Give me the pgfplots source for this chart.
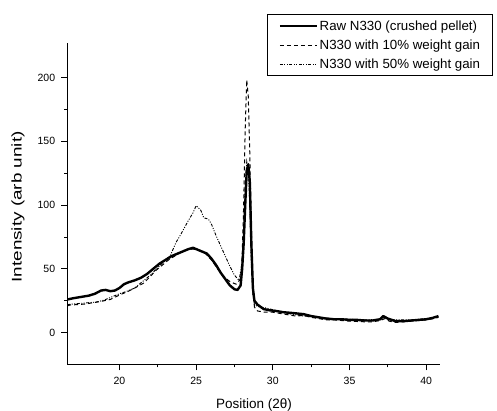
\documentclass[border=0pt]{standalone}
\usepackage{fontspec}
\setmainfont{Liberation Sans}
\usepackage{pgfplots}
\pgfplotsset{compat=1.18}
\begin{document}
\begin{tikzpicture}
\begin{axis}[
  scale only axis,
  width=372.7pt, height=321.3pt,
  xmin=16.6, xmax=40.9,
  ymin=-24.8, ymax=227,
  axis x line=bottom, axis y line=left,
  axis line style={-, line width=0.8pt},
  tick align=outside,
  major tick length=6pt, minor tick length=3pt,
  every tick/.style={black, line width=0.8pt},
  xtick={20,25,30,35,40}, ytick={0,50,100,150,200},
  minor x tick num=1, minor y tick num=1,
  /pgf/number format/assume math mode=true,
  ticklabel style={font=\fontsize{10.5}{12}\selectfont},
  xticklabel style={inner sep=0pt, anchor=north, yshift=-7pt},
  yticklabel style={inner sep=0pt, anchor=east, xshift=-6pt},
  xlabel={Position (2θ)},
  xlabel style={font=\fontsize{13.5}{15}\selectfont, at={(axis description cs:0.501,-0.136)}, anchor=base},
  ylabel={\scalebox{1.35}[1]{Intensity (arb unit)}},
  ylabel style={font=\fontsize{14}{16}\selectfont, at={(axis description cs:-0.132,0.49)}, anchor=center},
  legend style={at={(axis description cs:1.142,1.090)}, anchor=north east,
    draw=black, line width=0.6pt, fill=white,
    font=\fontsize{13.3}{15}\selectfont,
    inner xsep=11pt, inner ysep=4pt, row sep=4pt,
    nodes={inner xsep=1.5pt}},
  legend cell align=left,
  legend image code/.code={\draw[#1] (0pt,0pt) -- (37pt,0pt);},
  clip=false,
]
\coordinate (O) at (rel axis cs:0,0);
\addlegendimage{black, line width=2.4pt}
\addlegendimage{black, line width=1pt, dash pattern=on 4pt off 3pt}
\addlegendimage{black, line width=0.9pt, dash pattern=on 3pt off 1.5pt on 1pt off 1.5pt on 1pt off 1.5pt}
\legend{Raw N330 (crushed pellet), N330 with 10\% weight gain, N330 with 50\% weight gain}
% 50% weight gain (dash dot dot)
\addplot[forget plot, black, line width=0.9pt, dash pattern=on 3pt off 1.5pt on 1pt off 1.5pt on 1pt off 1.5pt] coordinates {
(16.6,22) (17.0,22.5) (17.5,23) (18.0,23.5) (18.5,24) (19.0,25.5) (19.5,28) (20.0,30.5) (20.5,32.5)
(21.0,35) (21.5,40) (22.0,45) (22.5,51) (23.0,57) (23.3,60) (23.7,71) (24.0,77) (24.5,88) (24.8,94)
(25.0,99.5) (25.3,96) (25.5,90) (25.8,89) (26.0,85) (26.3,76) (26.6,68) (26.9,60) (27.2,52) (27.5,45)
(27.8,41) (28.0,55) (28.1,80) (28.2,115) (28.3,134) (28.4,128) (28.5,100) (28.6,55) (28.7,30) (28.8,22)
(29.0,20.5) (29.5,19.5) (30.0,18) (30.5,16.5) (31.0,15) (31.5,14) (32.0,13) (33.0,12) (34.0,11)
(35.0,10.5) (36.0,10) (37.0,10.5) (37.3,12) (37.6,10.5) (38.0,10) (39.0,10) (40.0,11) (40.8,12.5)
};
% 10% weight gain (dashed)
\addplot[forget plot, black, line width=1pt, dash pattern=on 4pt off 3pt] coordinates {
(16.6,21) (16.8,21.7) (17.3,22) (17.8,22.5) (18.3,23.5) (18.8,24.5) (19.4,26) (20.0,29.5) (20.5,32)
(21.0,35) (21.6,39) (22.0,44) (22.4,49) (22.8,53) (23.2,57) (23.6,60) (24.0,63) (24.4,65) (24.8,65.5)
(25.2,64.5) (25.6,62) (26.0,57) (26.4,50) (26.8,44) (27.2,40) (27.6,38) (27.9,42) (28.0,60) (28.1,100)
(28.2,160) (28.3,198) (28.4,185) (28.5,140) (28.6,80) (28.7,35) (28.8,20) (29.0,17) (29.5,16) (30.0,16)
(30.5,15) (31.0,14) (31.5,13) (32.0,13.5) (32.5,12) (33.0,11) (33.5,10) (34.0,10) (35.0,9) (36.0,8.5)
(36.5,8.5) (37.0,9.5) (37.3,11) (37.6,9) (38.0,8) (38.5,8.5) (39.0,9) (39.5,9.5) (40.0,10) (40.5,11) (40.8,12)
};
% Raw N330 (solid)
\addplot[forget plot, black, line width=2.4pt, line join=round] coordinates {
(16.6,26) (17.0,27) (17.5,28) (18.0,29) (18.4,30.5) (18.8,33) (19.1,33.5) (19.4,32.5) (19.7,33)
(20.0,35) (20.3,38) (20.6,39.5) (21.0,41) (21.4,43) (21.8,46) (22.2,50) (22.6,54) (23.0,57) (23.4,60)
(23.8,62) (24.2,64) (24.5,65.5) (24.8,66.5) (25.1,65) (25.4,63.5) (25.7,62) (26.0,58) (26.3,53)
(26.6,47) (26.9,42) (27.2,37) (27.5,34) (27.7,33.5) (27.9,37) (28.0,50) (28.1,70) (28.2,100)
(28.3,127) (28.4,132) (28.5,118) (28.6,70) (28.7,35) (28.8,25) (29.0,22) (29.4,18.5) (29.8,17.5)
(30.2,17) (30.7,16) (31.2,15.5) (31.6,15) (32.0,14.5) (32.5,13) (33.0,12) (33.5,11) (34.0,10.5)
(34.5,10.5) (35.0,10) (35.5,10) (36.0,9.5) (36.5,9.5) (37.0,10.5) (37.2,13) (37.5,11) (38.0,9)
(38.5,9) (39.0,9.5) (39.5,10) (40.0,10.5) (40.4,11.5) (40.8,13)
};
\end{axis}
\pgfresetboundingbox
\path[use as bounding box] (O) ++(-67.3pt,-45.7pt) rectangle ++(497pt,410pt);
\end{tikzpicture}
\end{document}
